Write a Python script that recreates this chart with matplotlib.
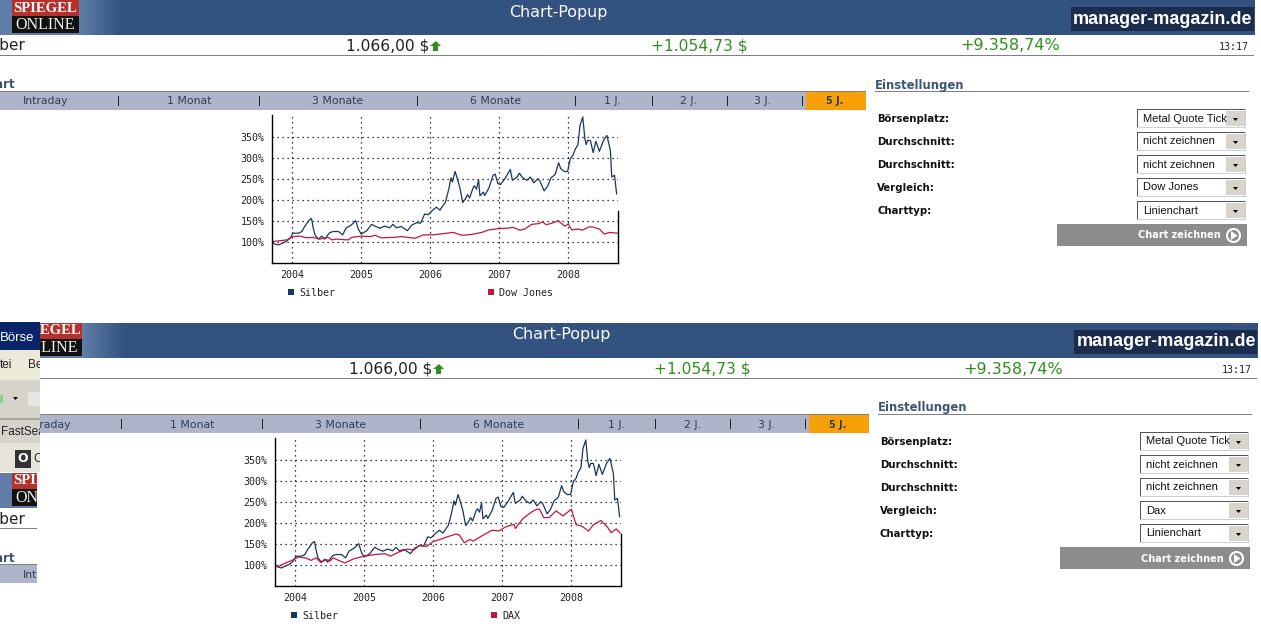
import matplotlib
matplotlib.use('Agg')
import matplotlib.pyplot as plt
from matplotlib.patches import Rectangle, Circle, Polygon
from matplotlib.transforms import Bbox, TransformedBbox

# values: year, percent
silber_x = [2003.70, 2003.75, 2003.80, 2003.85, 2003.91, 2003.97, 2004.01, 2004.09, 2004.14, 2004.18,
            2004.25, 2004.28, 2004.30, 2004.33, 2004.38, 2004.43, 2004.47, 2004.54, 2004.59, 2004.67,
            2004.73, 2004.78, 2004.86, 2004.92, 2004.96, 2005.00, 2005.08, 2005.15, 2005.21, 2005.27,
            2005.34, 2005.41, 2005.46, 2005.51, 2005.58, 2005.67, 2005.73, 2005.80, 2005.86, 2005.92,
            2005.97, 2006.03, 2006.09, 2006.14, 2006.22, 2006.27, 2006.30, 2006.32, 2006.36, 2006.40,
            2006.43, 2006.47, 2006.51, 2006.54, 2006.57, 2006.62, 2006.64, 2006.67, 2006.70, 2006.72,
            2006.77, 2006.79, 2006.85, 2006.91, 2006.94, 2006.98, 2007.02, 2007.09, 2007.16, 2007.19,
            2007.26, 2007.29, 2007.34, 2007.40, 2007.45, 2007.50, 2007.56, 2007.59, 2007.65, 2007.70,
            2007.75, 2007.81, 2007.86, 2007.89, 2007.94, 2007.99, 2008.03, 2008.07, 2008.10, 2008.14,
            2008.17, 2008.21, 2008.24, 2008.26, 2008.28, 2008.32, 2008.36, 2008.40, 2008.45, 2008.51,
            2008.56, 2008.61, 2008.63, 2008.67, 2008.70]
silber_y = [100, 94, 92, 96, 100, 108, 120, 120, 124, 136,
            152, 155, 136, 116, 106, 113, 106, 121, 124, 124,
            116, 132, 140, 150, 129, 118, 126, 141, 136, 132,
            137, 133, 141, 133, 136, 126, 139, 145, 144, 166,
            164, 174, 182, 175, 194, 226, 252, 242, 267, 246,
            228, 193, 202, 212, 204, 228, 233, 225, 247, 209,
            218, 210, 228, 258, 261, 238, 236, 252, 272, 246,
            254, 263, 252, 246, 254, 240, 250, 244, 221, 232,
            252, 260, 288, 274, 267, 267, 298, 306, 320, 331,
            377, 397, 345, 331, 341, 341, 312, 339, 315, 341,
            353, 317, 254, 258, 214]

dow_x = [2003.70, 2003.82, 2003.92, 2004.01, 2004.11, 2004.21, 2004.30, 2004.40, 2004.52, 2004.58,
         2004.64, 2004.81, 2004.86, 2005.00, 2005.13, 2005.20, 2005.29, 2005.46, 2005.58, 2005.78,
         2005.90, 2006.04, 2006.24, 2006.33, 2006.46, 2006.60, 2006.75, 2006.85, 2007.00, 2007.12,
         2007.20, 2007.30, 2007.37, 2007.47, 2007.57, 2007.63, 2007.68, 2007.80, 2007.85, 2007.95,
         2008.00, 2008.05, 2008.15, 2008.20, 2008.30, 2008.35, 2008.45, 2008.52, 2008.60, 2008.71]
dow_y = [100, 102, 104, 112, 113, 109, 110, 106, 110, 104,
         106, 104, 110, 113, 112, 115, 109, 110, 112, 108,
         116, 116, 120, 122, 115, 117, 122, 128, 131, 132,
         134, 127, 130, 141, 143, 147, 140, 146, 150, 137,
         142, 128, 130, 127, 135, 135, 130, 118, 122, 120]

dax_x = [2003.70, 2003.76, 2003.85, 2003.95, 2004.05, 2004.15, 2004.23, 2004.30, 2004.37, 2004.45,
         2004.50, 2004.55, 2004.63, 2004.72, 2004.85, 2005.00, 2005.15, 2005.30, 2005.38, 2005.50,
         2005.62, 2005.72, 2005.80, 2005.90, 2006.00, 2006.10, 2006.20, 2006.33, 2006.38, 2006.45,
         2006.53, 2006.58, 2006.70, 2006.85, 2006.95, 2007.05, 2007.17, 2007.19, 2007.30, 2007.42,
         2007.50, 2007.54, 2007.60, 2007.68, 2007.78, 2007.88, 2008.00, 2008.07, 2008.15, 2008.25,
         2008.32, 2008.43, 2008.52, 2008.58, 2008.65, 2008.71]
dax_y = [100, 96, 103, 110, 118, 116, 110, 116, 105, 112,
         108, 116, 110, 104, 114, 120, 124, 126, 120, 130,
         137, 135, 146, 143, 155, 160, 166, 173, 170, 152,
         160, 156, 168, 182, 180, 190, 196, 186, 210, 225,
         232, 232, 212, 212, 228, 216, 232, 195, 192, 180,
         195, 205, 190, 176, 185, 175]

year_ticks = [2004, 2005, 2006, 2007, 2008]
pct_ticks = [100, 150, 200, 250, 300, 350]
tab_labels = ['Intraday', '1 Monat', '3 Monate', '6 Monate', '1 J.', '2 J.', '3 J.', '5 J.']
tab_centers = [46, 189, 338, 496, 613, 689, 763, 835]
tab_seps = [118, 259, 417, 575, 652, 727, 802]
setting_labels = ['Börsenplatz:', 'Durchschnitt:', 'Durchschnitt:', 'Vergleich:', 'Charttyp:']

NAVY = '#33527f'
SILVER_COL = '#17375e'
RED = '#c2183a'
GREEN = '#2f8f1f'
SANS = 'DejaVu Sans'
MONO = 'DejaVu Sans Mono'

fig = plt.figure(figsize=(12.61, 6.30), dpi=100)
bg = fig.add_axes([0, 0, 1, 1])
bg.set_xlim(0, 1261)
bg.set_ylim(630, 0)
bg.axis('off')


def box(x0, y0, x1, y1, color, **kw):
    bg.add_patch(Rectangle((x0, y0), x1 - x0, y1 - y0, facecolor=color, edgecolor='none', **kw))


def label(x, y, s, **kw):
    kw.setdefault('va', 'center')
    kw.setdefault('family', SANS)
    return bg.text(x, y, s, **kw)


def clip_new(before, clip):
    # everything drawn since 'before' stays inside the clip window
    x0, y0, x1, y1 = clip
    window = TransformedBbox(Bbox([[x0, y0], [x1, y1]]), bg.transData)
    for art in set(bg.get_children()) - before:
        art.set_clip_on(True)
        art.set_clip_box(window)


def draw_page(dx, dy, compare, clip):
    before = set(bg.get_children())

    # header strip
    box(dx, dy, dx + 1255, dy + 35, NAVY)
    box(dx, dy, dx + 80, dy + 35, '#5f7da6')
    for i in range(20):
        box(dx + 80 + i * 2, dy, dx + 82 + i * 2, dy + 35, '#5f7da6', alpha=1 - i / 20)
    box(dx + 12, dy, dx + 79, dy + 16, '#b5312c')
    box(dx + 12, dy + 16, dx + 79, dy + 33, '#111111')
    label(dx + 45.5, dy + 8, 'SPIEGEL', color='white', ha='center', fontsize=10.5,
          fontweight='bold', family='Liberation Serif')
    label(dx + 45.5, dy + 25, 'ONLINE', color='#eeeeee', ha='center', fontsize=11.5, family='Liberation Serif')
    label(dx + 558, dy + 12, 'Chart-Popup', color='white', ha='center', fontsize=11.4)
    box(dx + 1071, dy + 7, dx + 1254, dy + 31, '#1c2c4c')
    label(dx + 1163, dy + 19, 'manager-magazin.de', color='white', ha='center', fontsize=13,
          fontweight='bold', family='Liberation Sans')

    # price row
    label(dx + 25, dy + 46, 'Silber', ha='right', fontsize=11, color='#222222')
    label(dx + 429, dy + 46, '1.066,00 $', ha='right', fontsize=11.2, color='#222222')
    bg.add_patch(Polygon([(dx + 430, dy + 46), (dx + 436, dy + 41), (dx + 441, dy + 46), (dx + 438, dy + 46),
                          (dx + 438, dy + 51), (dx + 433, dy + 51), (dx + 433, dy + 46)],
                         facecolor=GREEN, edgecolor='none'))
    label(dx + 699, dy + 46, '+1.054,73 $', ha='center', fontsize=11.2, color=GREEN)
    label(dx + 1010, dy + 46, '+9.358,74%', ha='center', fontsize=11.5, color=GREEN)
    label(dx + 1249, dy + 47, '13:17', ha='right', fontsize=7.2, family=MONO, color='#222222')
    box(dx, dy + 55, dx + 1254, dy + 56, '#808080')

    # tabs
    label(dx + 15, dy + 85, 'Chart', ha='right', fontsize=8.5, fontweight='bold', color='#3a4f6e')
    box(dx, dy + 91, dx + 866, dy + 110, '#aeb5ca')
    box(dx, dy + 91, dx + 866, dy + 92, '#808080')
    box(dx + 806, dy + 92, dx + 866, dy + 110, '#f7a008')
    for x in tab_seps:
        box(dx + x, dy + 96, dx + x + 1, dy + 106, '#222222')
    for x, s in zip(tab_centers, tab_labels):
        bold = s == '5 J.'
        label(dx + x, dy + 101.5, s, ha='center', fontsize=7.8 if not bold else 7, color='#2d3d5c',
              fontweight='bold' if bold else 'normal')

    # settings
    label(dx + 875, dy + 85, 'Einstellungen', fontsize=8.4, fontweight='bold', color='#3a5678')
    box(dx + 875, dy + 91, dx + 1249, dy + 92, '#808080')
    values = ['Metal Quote Tick', 'nicht zeichnen', 'nicht zeichnen', compare, 'Linienchart']
    for i, (s, v) in enumerate(zip(setting_labels, values)):
        y = dy + 119 + i * 23
        label(dx + 877, y, s, fontsize=7.3, fontweight='bold', color='#111111')
        box(dx + 1137, y - 10, dx + 1246, y + 9, '#cfcfcf')
        box(dx + 1137, y - 10, dx + 1245, y + 8, '#555555')
        box(dx + 1138, y - 9, dx + 1245, y + 8, 'white')
        label(dx + 1143, y - 0.5, v, fontsize=8, family='Liberation Sans', color='#111111')
        box(dx + 1226, y - 8, dx + 1245, y + 7, '#d8d4cc')
        bg.add_patch(Polygon([(dx + 1233, y - 1), (dx + 1238, y - 1), (dx + 1235.5, y + 2)], facecolor='black'))
    box(dx + 1057, dy + 224, dx + 1247, dy + 246, '#8c8c8c')
    label(dx + 1221, dy + 235.5, 'Chart zeichnen', ha='right', fontsize=7, fontweight='bold', color='white')
    bg.add_patch(Circle((dx + 1233.5, dy + 235.5), 6.5, facecolor='none', edgecolor='white', lw=1.5))
    bg.add_patch(Polygon([(dx + 1231, dy + 231), (dx + 1237.5, dy + 235.5), (dx + 1231, dy + 240)], facecolor='white'))

    clip_new(before, clip)


def draw_chart(dx, dy, other_x, other_y, other_name):
    left, right, top, bottom = 271.5 + dx, 617.5 + dx, 115.0 + dy, 263.0 + dy
    ax = fig.add_axes([left / 1261, 1 - bottom / 630, (right - left) / 1261, (bottom - top) / 630])
    ax.patch.set_alpha(0)
    ax.set_xlim(2003.70, 2008.713)
    ax.set_ylim(49, 401.7)
    ax.plot(silber_x, silber_y, color=SILVER_COL, lw=0.9)
    ax.plot(other_x, other_y, color=RED, lw=0.9)
    ax.set_xticks(year_ticks)
    ax.set_yticks(pct_ticks)
    ax.set_yticklabels([f'{p}%' for p in pct_ticks])
    ax.grid(True, color='black', linestyle=(0, (1, 3)), linewidth=0.9)
    ax.tick_params(length=0, pad=5, labelsize=7.2, labelcolor='#222222')
    for t in ax.get_xticklabels() + ax.get_yticklabels():
        t.set_family(MONO)
    ax.spines['top'].set_visible(False)
    ax.spines['right'].set_bounds(49, 172)
    for s in ax.spines.values():
        s.set_linewidth(1.0)

    box(288 + dx, 289 + dy, 294 + dx, 295 + dy, SILVER_COL)
    label(299 + dx, 293 + dy, 'Silber', fontsize=7.2, family=MONO, color='#222222')
    box(488 + dx, 289 + dy, 494 + dx, 295 + dy, RED)
    label(499 + dx, 293 + dy, other_name, fontsize=7.2, family=MONO, color='#222222')


draw_page(0, 0, 'Dow Jones', (0, 0, 1261, 322))
draw_page(3, 323, 'Dax', (40, 322, 1261, 630))
draw_chart(0, 0, dow_x, dow_y, 'Dow Jones')
draw_chart(3, 323, dax_x, dax_y, 'DAX')

# browser window peeking out behind the second popup
before = set(bg.get_children())
box(0, 322, 40, 472, '#d6d3ca')
box(0, 322, 40, 350, '#0a246a')
label(0, 338, 'Börse', color='white', fontsize=9.5, family=['Liberation Sans', 'DejaVu Sans'])
box(0, 350, 40, 380, '#ece9d8')
label(0, 365, 'tei', fontsize=8.5, family='Liberation Sans', color='#222222')
label(28, 365, 'Bearbeiten', fontsize=8.5, family='Liberation Sans', color='#222222')
box(0, 380, 40, 418, '#d6d3ca')
box(0, 395, 3, 403, '#8fc98f')
bg.add_patch(Polygon([(13, 397), (18, 397), (15.5, 400)], facecolor='black'))
box(28, 392, 40, 406, '#e8e6e0')
box(0, 418, 40, 420, '#a8a59c')
label(1, 432, 'FastSearch', fontsize=8.5, family='Liberation Sans', color='#222222')
box(0, 443, 40, 472, '#e6e3da')
box(15, 450, 31, 468, '#333333')
label(23, 459, 'O', color='white', fontsize=9, ha='center', fontweight='bold')
label(33, 459, 'Chart', fontsize=8.5, family='Liberation Sans', color='#222222')
clip_new(before, (0, 322, 40, 472))

# second copy of the first popup underneath
box(0, 472, 37, 583, 'white')
draw_page(0, 473, 'Dow Jones', (0, 473, 37, 583))

fig.savefig('out.png', dpi=100)
